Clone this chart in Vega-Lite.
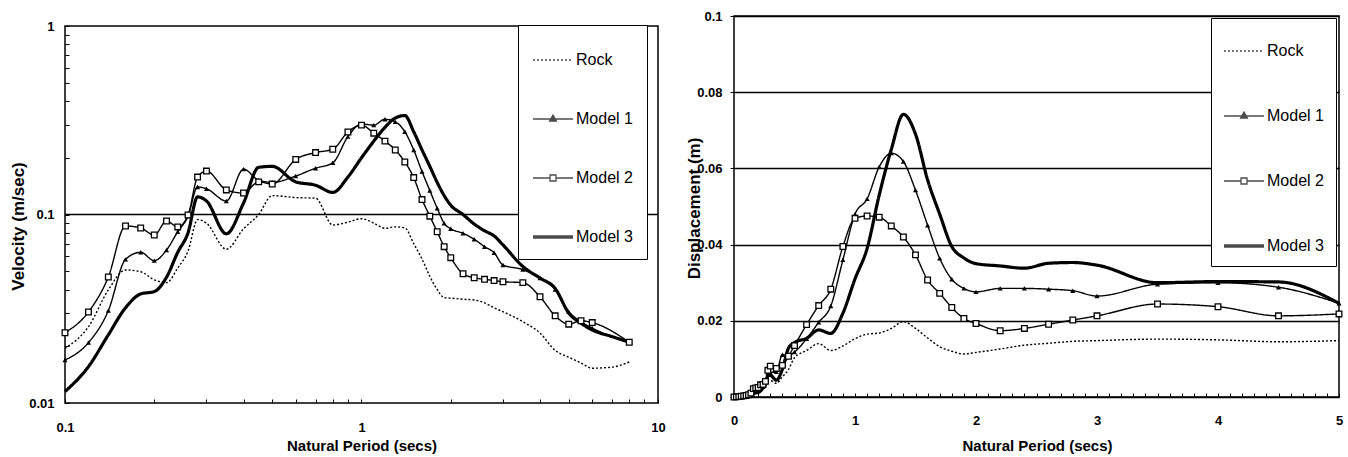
{
  "$schema": "https://vega.github.io/schema/vega-lite/v6.json",
  "padding": {"left": 8, "top": 9, "right": 0, "bottom": 0},
  "background": "white",
  "config": {
    "font": "Liberation Sans",
    "view": {"stroke": "black", "strokeWidth": 1.5},
    "axis": {"labelFont": "Liberation Sans", "labelFontWeight": "bold", "labelFontSize": 13, "labelColor": "black", "titleFont": "Liberation Sans", "titleFontWeight": "bold", "titleColor": "black", "domain": false, "tickColor": "black", "tickWidth": 1, "labelFlush": false, "labelOverlap": false, "labelBound": false, "grid": false},
    "legend": {"orient": "none", "direction": "vertical", "symbolSize": 1600, "symbolStrokeColor": "black", "symbolStrokeWidth": 1.3, "symbolFillColor": "transparent", "labelFont": "Liberation Sans", "labelFontSize": 16, "labelColor": "black", "labelOffset": 2, "labelLimit": 200, "strokeColor": "black", "fillColor": "white"}
  },
  "datasets": {
    "vel": [
      {"series":"Rock","period":0.1,"velocity":0.0195},{"series":"Rock","period":0.12,"velocity":0.0254},{"series":"Rock","period":0.14,"velocity":0.0398},{"series":"Rock","period":0.16,"velocity":0.0508},{"series":"Rock","period":0.18,"velocity":0.0497},{"series":"Rock","period":0.2,"velocity":0.045},{"series":"Rock","period":0.22,"velocity":0.0435},{"series":"Rock","period":0.24,"velocity":0.052},{"series":"Rock","period":0.26,"velocity":0.064},{"series":"Rock","period":0.28,"velocity":0.094},{"series":"Rock","period":0.3,"velocity":0.09},{"series":"Rock","period":0.35,"velocity":0.0654},{"series":"Rock","period":0.4,"velocity":0.084},{"series":"Rock","period":0.45,"velocity":0.1},{"series":"Rock","period":0.5,"velocity":0.126},{"series":"Rock","period":0.6,"velocity":0.123},{"series":"Rock","period":0.7,"velocity":0.122},{"series":"Rock","period":0.8,"velocity":0.088},{"series":"Rock","period":0.9,"velocity":0.091},{"series":"Rock","period":1.0,"velocity":0.095},{"series":"Rock","period":1.1,"velocity":0.09},{"series":"Rock","period":1.2,"velocity":0.0845},{"series":"Rock","period":1.3,"velocity":0.086},{"series":"Rock","period":1.4,"velocity":0.085},{"series":"Rock","period":1.5,"velocity":0.07},{"series":"Rock","period":1.6,"velocity":0.058},{"series":"Rock","period":1.7,"velocity":0.047},{"series":"Rock","period":1.8,"velocity":0.04},{"series":"Rock","period":1.9,"velocity":0.0362},{"series":"Rock","period":2.0,"velocity":0.036},{"series":"Rock","period":2.2,"velocity":0.0355},{"series":"Rock","period":2.4,"velocity":0.0352},{"series":"Rock","period":2.6,"velocity":0.034},{"series":"Rock","period":2.8,"velocity":0.032},{"series":"Rock","period":3.0,"velocity":0.0305},{"series":"Rock","period":3.5,"velocity":0.027},{"series":"Rock","period":4.0,"velocity":0.0235},{"series":"Rock","period":4.5,"velocity":0.019},{"series":"Rock","period":5.0,"velocity":0.0175},{"series":"Rock","period":5.5,"velocity":0.0163},{"series":"Rock","period":6.0,"velocity":0.0153},{"series":"Rock","period":7.0,"velocity":0.0155},{"series":"Rock","period":8.0,"velocity":0.0165},
      {"series":"Model 1","period":0.1,"velocity":0.0169},{"series":"Model 1","period":0.12,"velocity":0.0209},{"series":"Model 1","period":0.14,"velocity":0.0309},{"series":"Model 1","period":0.16,"velocity":0.0578},{"series":"Model 1","period":0.18,"velocity":0.063},{"series":"Model 1","period":0.2,"velocity":0.0569},{"series":"Model 1","period":0.22,"velocity":0.0648},{"series":"Model 1","period":0.24,"velocity":0.081},{"series":"Model 1","period":0.26,"velocity":0.098},{"series":"Model 1","period":0.28,"velocity":0.14},{"series":"Model 1","period":0.3,"velocity":0.137},{"series":"Model 1","period":0.35,"velocity":0.118},{"series":"Model 1","period":0.4,"velocity":0.174},{"series":"Model 1","period":0.45,"velocity":0.152},{"series":"Model 1","period":0.5,"velocity":0.148},{"series":"Model 1","period":0.6,"velocity":0.16},{"series":"Model 1","period":0.7,"velocity":0.176},{"series":"Model 1","period":0.8,"velocity":0.188},{"series":"Model 1","period":0.9,"velocity":0.259},{"series":"Model 1","period":1.0,"velocity":0.302},{"series":"Model 1","period":1.1,"velocity":0.298},{"series":"Model 1","period":1.2,"velocity":0.32},{"series":"Model 1","period":1.3,"velocity":0.31},{"series":"Model 1","period":1.4,"velocity":0.275},{"series":"Model 1","period":1.5,"velocity":0.22},{"series":"Model 1","period":1.6,"velocity":0.169},{"series":"Model 1","period":1.7,"velocity":0.134},{"series":"Model 1","period":1.8,"velocity":0.108},{"series":"Model 1","period":1.9,"velocity":0.0898},{"series":"Model 1","period":2.0,"velocity":0.084},{"series":"Model 1","period":2.2,"velocity":0.0795},{"series":"Model 1","period":2.4,"velocity":0.0739},{"series":"Model 1","period":2.6,"velocity":0.0675},{"series":"Model 1","period":2.8,"velocity":0.0627},{"series":"Model 1","period":3.0,"velocity":0.054},{"series":"Model 1","period":3.5,"velocity":0.051},{"series":"Model 1","period":4.0,"velocity":0.046},{"series":"Model 1","period":4.5,"velocity":0.04},{"series":"Model 1","period":5.0,"velocity":0.0305},{"series":"Model 1","period":5.5,"velocity":0.027},{"series":"Model 1","period":6.0,"velocity":0.025},{"series":"Model 1","period":8.0,"velocity":0.021},
      {"series":"Model 2","period":0.1,"velocity":0.0236},{"series":"Model 2","period":0.12,"velocity":0.0304},{"series":"Model 2","period":0.14,"velocity":0.0466},{"series":"Model 2","period":0.16,"velocity":0.0869},{"series":"Model 2","period":0.18,"velocity":0.0848},{"series":"Model 2","period":0.2,"velocity":0.0778},{"series":"Model 2","period":0.22,"velocity":0.0924},{"series":"Model 2","period":0.24,"velocity":0.0859},{"series":"Model 2","period":0.26,"velocity":0.0994},{"series":"Model 2","period":0.28,"velocity":0.158},{"series":"Model 2","period":0.3,"velocity":0.17},{"series":"Model 2","period":0.35,"velocity":0.135},{"series":"Model 2","period":0.4,"velocity":0.13},{"series":"Model 2","period":0.45,"velocity":0.149},{"series":"Model 2","period":0.5,"velocity":0.145},{"series":"Model 2","period":0.6,"velocity":0.196},{"series":"Model 2","period":0.7,"velocity":0.213},{"series":"Model 2","period":0.8,"velocity":0.222},{"series":"Model 2","period":0.9,"velocity":0.274},{"series":"Model 2","period":1.0,"velocity":0.298},{"series":"Model 2","period":1.1,"velocity":0.27},{"series":"Model 2","period":1.2,"velocity":0.245},{"series":"Model 2","period":1.3,"velocity":0.22},{"series":"Model 2","period":1.4,"velocity":0.19},{"series":"Model 2","period":1.5,"velocity":0.157},{"series":"Model 2","period":1.6,"velocity":0.12},{"series":"Model 2","period":1.7,"velocity":0.098},{"series":"Model 2","period":1.8,"velocity":0.081},{"series":"Model 2","period":1.9,"velocity":0.0675},{"series":"Model 2","period":2.0,"velocity":0.059},{"series":"Model 2","period":2.2,"velocity":0.0485},{"series":"Model 2","period":2.4,"velocity":0.0462},{"series":"Model 2","period":2.6,"velocity":0.0453},{"series":"Model 2","period":2.8,"velocity":0.0446},{"series":"Model 2","period":3.0,"velocity":0.044},{"series":"Model 2","period":3.5,"velocity":0.0435},{"series":"Model 2","period":4.0,"velocity":0.0366},{"series":"Model 2","period":4.5,"velocity":0.029},{"series":"Model 2","period":5.0,"velocity":0.0262},{"series":"Model 2","period":5.5,"velocity":0.0273},{"series":"Model 2","period":6.0,"velocity":0.0267},{"series":"Model 2","period":8.0,"velocity":0.021},
      {"series":"Model 3","period":0.1,"velocity":0.0115},{"series":"Model 3","period":0.12,"velocity":0.0156},{"series":"Model 3","period":0.14,"velocity":0.023},{"series":"Model 3","period":0.16,"velocity":0.032},{"series":"Model 3","period":0.18,"velocity":0.0379},{"series":"Model 3","period":0.2,"velocity":0.039},{"series":"Model 3","period":0.22,"velocity":0.0465},{"series":"Model 3","period":0.24,"velocity":0.063},{"series":"Model 3","period":0.26,"velocity":0.08},{"series":"Model 3","period":0.28,"velocity":0.124},{"series":"Model 3","period":0.3,"velocity":0.118},{"series":"Model 3","period":0.35,"velocity":0.079},{"series":"Model 3","period":0.4,"velocity":0.115},{"series":"Model 3","period":0.45,"velocity":0.178},{"series":"Model 3","period":0.5,"velocity":0.18},{"series":"Model 3","period":0.6,"velocity":0.149},{"series":"Model 3","period":0.7,"velocity":0.143},{"series":"Model 3","period":0.8,"velocity":0.131},{"series":"Model 3","period":0.9,"velocity":0.158},{"series":"Model 3","period":1.0,"velocity":0.2},{"series":"Model 3","period":1.1,"velocity":0.245},{"series":"Model 3","period":1.2,"velocity":0.29},{"series":"Model 3","period":1.3,"velocity":0.325},{"series":"Model 3","period":1.4,"velocity":0.335},{"series":"Model 3","period":1.5,"velocity":0.275},{"series":"Model 3","period":1.6,"velocity":0.22},{"series":"Model 3","period":1.7,"velocity":0.18},{"series":"Model 3","period":1.8,"velocity":0.148},{"series":"Model 3","period":1.9,"velocity":0.126},{"series":"Model 3","period":2.0,"velocity":0.112},{"series":"Model 3","period":2.2,"velocity":0.1},{"series":"Model 3","period":2.4,"velocity":0.089},{"series":"Model 3","period":2.6,"velocity":0.082},{"series":"Model 3","period":2.8,"velocity":0.077},{"series":"Model 3","period":3.0,"velocity":0.069},{"series":"Model 3","period":3.5,"velocity":0.053},{"series":"Model 3","period":4.0,"velocity":0.046},{"series":"Model 3","period":4.5,"velocity":0.0405},{"series":"Model 3","period":5.0,"velocity":0.03},{"series":"Model 3","period":5.5,"velocity":0.0265},{"series":"Model 3","period":6.0,"velocity":0.0244},{"series":"Model 3","period":7.0,"velocity":0.0225},{"series":"Model 3","period":8.0,"velocity":0.021}
    ],
    "disp": [
      {"series":"Rock","period":0,"displacement":0},{"series":"Rock","period":0.02,"displacement":0.00003},{"series":"Rock","period":0.04,"displacement":0.0001},{"series":"Rock","period":0.06,"displacement":0.00015},{"series":"Rock","period":0.08,"displacement":0.0002},{"series":"Rock","period":0.1,"displacement":0.0003},{"series":"Rock","period":0.12,"displacement":0.0005},{"series":"Rock","period":0.14,"displacement":0.0009},{"series":"Rock","period":0.16,"displacement":0.0013},{"series":"Rock","period":0.18,"displacement":0.0014},{"series":"Rock","period":0.2,"displacement":0.0014},{"series":"Rock","period":0.22,"displacement":0.0015},{"series":"Rock","period":0.24,"displacement":0.002},{"series":"Rock","period":0.26,"displacement":0.0026},{"series":"Rock","period":0.28,"displacement":0.0042},{"series":"Rock","period":0.3,"displacement":0.0043},{"series":"Rock","period":0.35,"displacement":0.0036},{"series":"Rock","period":0.4,"displacement":0.0053},{"series":"Rock","period":0.45,"displacement":0.0072},{"series":"Rock","period":0.5,"displacement":0.0103},{"series":"Rock","period":0.6,"displacement":0.0122},{"series":"Rock","period":0.7,"displacement":0.014},{"series":"Rock","period":0.8,"displacement":0.0122},{"series":"Rock","period":0.9,"displacement":0.0134},{"series":"Rock","period":1.0,"displacement":0.0153},{"series":"Rock","period":1.1,"displacement":0.0165},{"series":"Rock","period":1.2,"displacement":0.0168},{"series":"Rock","period":1.3,"displacement":0.018},{"series":"Rock","period":1.4,"displacement":0.0198},{"series":"Rock","period":1.5,"displacement":0.018},{"series":"Rock","period":1.6,"displacement":0.0155},{"series":"Rock","period":1.7,"displacement":0.0132},{"series":"Rock","period":1.8,"displacement":0.012},{"series":"Rock","period":1.9,"displacement":0.0113},{"series":"Rock","period":2.0,"displacement":0.0117},{"series":"Rock","period":2.2,"displacement":0.0126},{"series":"Rock","period":2.4,"displacement":0.0136},{"series":"Rock","period":2.6,"displacement":0.0141},{"series":"Rock","period":2.8,"displacement":0.0146},{"series":"Rock","period":3.0,"displacement":0.0148},{"series":"Rock","period":3.5,"displacement":0.0152},{"series":"Rock","period":4.0,"displacement":0.015},{"series":"Rock","period":4.5,"displacement":0.0145},{"series":"Rock","period":5.0,"displacement":0.0148},
      {"series":"Model 1","period":0,"displacement":0},{"series":"Model 1","period":0.02,"displacement":0.00003},{"series":"Model 1","period":0.04,"displacement":0.00008},{"series":"Model 1","period":0.06,"displacement":0.00015},{"series":"Model 1","period":0.08,"displacement":0.0002},{"series":"Model 1","period":0.1,"displacement":0.00027},{"series":"Model 1","period":0.12,"displacement":0.0004},{"series":"Model 1","period":0.14,"displacement":0.0007},{"series":"Model 1","period":0.16,"displacement":0.0015},{"series":"Model 1","period":0.18,"displacement":0.0018},{"series":"Model 1","period":0.2,"displacement":0.0018},{"series":"Model 1","period":0.22,"displacement":0.0023},{"series":"Model 1","period":0.24,"displacement":0.0031},{"series":"Model 1","period":0.26,"displacement":0.0041},{"series":"Model 1","period":0.28,"displacement":0.0062},{"series":"Model 1","period":0.3,"displacement":0.0064},{"series":"Model 1","period":0.35,"displacement":0.0066},{"series":"Model 1","period":0.4,"displacement":0.0111},{"series":"Model 1","period":0.45,"displacement":0.0109},{"series":"Model 1","period":0.5,"displacement":0.0118},{"series":"Model 1","period":0.6,"displacement":0.0153},{"series":"Model 1","period":0.7,"displacement":0.0196},{"series":"Model 1","period":0.8,"displacement":0.0239},{"series":"Model 1","period":0.9,"displacement":0.036},{"series":"Model 1","period":1.0,"displacement":0.048},{"series":"Model 1","period":1.1,"displacement":0.052},{"series":"Model 1","period":1.2,"displacement":0.0604},{"series":"Model 1","period":1.3,"displacement":0.064},{"series":"Model 1","period":1.4,"displacement":0.0618},{"series":"Model 1","period":1.5,"displacement":0.0543},{"series":"Model 1","period":1.6,"displacement":0.0451},{"series":"Model 1","period":1.7,"displacement":0.0364},{"series":"Model 1","period":1.8,"displacement":0.0309},{"series":"Model 1","period":1.9,"displacement":0.0285},{"series":"Model 1","period":2.0,"displacement":0.0276},{"series":"Model 1","period":2.2,"displacement":0.0285},{"series":"Model 1","period":2.4,"displacement":0.0285},{"series":"Model 1","period":2.6,"displacement":0.0283},{"series":"Model 1","period":2.8,"displacement":0.0279},{"series":"Model 1","period":3.0,"displacement":0.0265},{"series":"Model 1","period":3.5,"displacement":0.0296},{"series":"Model 1","period":4.0,"displacement":0.03},{"series":"Model 1","period":4.5,"displacement":0.0288},{"series":"Model 1","period":5.0,"displacement":0.0246},
      {"series":"Model 2","period":0,"displacement":0},{"series":"Model 2","period":0.02,"displacement":0.00004},{"series":"Model 2","period":0.04,"displacement":0.0001},{"series":"Model 2","period":0.06,"displacement":0.0002},{"series":"Model 2","period":0.08,"displacement":0.0003},{"series":"Model 2","period":0.1,"displacement":0.00038},{"series":"Model 2","period":0.12,"displacement":0.00058},{"series":"Model 2","period":0.14,"displacement":0.001},{"series":"Model 2","period":0.16,"displacement":0.0022},{"series":"Model 2","period":0.18,"displacement":0.0024},{"series":"Model 2","period":0.2,"displacement":0.0025},{"series":"Model 2","period":0.22,"displacement":0.0032},{"series":"Model 2","period":0.24,"displacement":0.0033},{"series":"Model 2","period":0.26,"displacement":0.0041},{"series":"Model 2","period":0.28,"displacement":0.007},{"series":"Model 2","period":0.3,"displacement":0.0081},{"series":"Model 2","period":0.35,"displacement":0.0075},{"series":"Model 2","period":0.4,"displacement":0.0083},{"series":"Model 2","period":0.45,"displacement":0.0107},{"series":"Model 2","period":0.5,"displacement":0.0135},{"series":"Model 2","period":0.6,"displacement":0.019},{"series":"Model 2","period":0.7,"displacement":0.024},{"series":"Model 2","period":0.8,"displacement":0.0283},{"series":"Model 2","period":0.9,"displacement":0.0395},{"series":"Model 2","period":1.0,"displacement":0.0469},{"series":"Model 2","period":1.1,"displacement":0.0475},{"series":"Model 2","period":1.2,"displacement":0.0472},{"series":"Model 2","period":1.3,"displacement":0.0449},{"series":"Model 2","period":1.4,"displacement":0.042},{"series":"Model 2","period":1.5,"displacement":0.0373},{"series":"Model 2","period":1.6,"displacement":0.0307},{"series":"Model 2","period":1.7,"displacement":0.0272},{"series":"Model 2","period":1.8,"displacement":0.0235},{"series":"Model 2","period":1.9,"displacement":0.0206},{"series":"Model 2","period":2.0,"displacement":0.0193},{"series":"Model 2","period":2.2,"displacement":0.0174},{"series":"Model 2","period":2.4,"displacement":0.018},{"series":"Model 2","period":2.6,"displacement":0.0191},{"series":"Model 2","period":2.8,"displacement":0.0202},{"series":"Model 2","period":3.0,"displacement":0.0213},{"series":"Model 2","period":3.5,"displacement":0.0244},{"series":"Model 2","period":4.0,"displacement":0.0237},{"series":"Model 2","period":4.5,"displacement":0.0213},{"series":"Model 2","period":5.0,"displacement":0.0218},
      {"series":"Model 3","period":0,"displacement":0},{"series":"Model 3","period":0.02,"displacement":0.00002},{"series":"Model 3","period":0.04,"displacement":0.00005},{"series":"Model 3","period":0.06,"displacement":0.0001},{"series":"Model 3","period":0.08,"displacement":0.00013},{"series":"Model 3","period":0.1,"displacement":0.00018},{"series":"Model 3","period":0.12,"displacement":0.0003},{"series":"Model 3","period":0.14,"displacement":0.0005},{"series":"Model 3","period":0.16,"displacement":0.0008},{"series":"Model 3","period":0.18,"displacement":0.0011},{"series":"Model 3","period":0.2,"displacement":0.0012},{"series":"Model 3","period":0.22,"displacement":0.0016},{"series":"Model 3","period":0.24,"displacement":0.0024},{"series":"Model 3","period":0.26,"displacement":0.0033},{"series":"Model 3","period":0.28,"displacement":0.0055},{"series":"Model 3","period":0.3,"displacement":0.0057},{"series":"Model 3","period":0.35,"displacement":0.0044},{"series":"Model 3","period":0.4,"displacement":0.0073},{"series":"Model 3","period":0.45,"displacement":0.0128},{"series":"Model 3","period":0.5,"displacement":0.0143},{"series":"Model 3","period":0.6,"displacement":0.0154},{"series":"Model 3","period":0.7,"displacement":0.0176},{"series":"Model 3","period":0.8,"displacement":0.0167},{"series":"Model 3","period":0.9,"displacement":0.022},{"series":"Model 3","period":1.0,"displacement":0.031},{"series":"Model 3","period":1.1,"displacement":0.039},{"series":"Model 3","period":1.2,"displacement":0.053},{"series":"Model 3","period":1.3,"displacement":0.065},{"series":"Model 3","period":1.4,"displacement":0.0742},{"series":"Model 3","period":1.5,"displacement":0.069},{"series":"Model 3","period":1.6,"displacement":0.057},{"series":"Model 3","period":1.7,"displacement":0.048},{"series":"Model 3","period":1.8,"displacement":0.0395},{"series":"Model 3","period":1.9,"displacement":0.0365},{"series":"Model 3","period":2.0,"displacement":0.035},{"series":"Model 3","period":2.2,"displacement":0.0344},{"series":"Model 3","period":2.4,"displacement":0.0338},{"series":"Model 3","period":2.6,"displacement":0.0351},{"series":"Model 3","period":2.8,"displacement":0.0353},{"series":"Model 3","period":3.0,"displacement":0.0346},{"series":"Model 3","period":3.5,"displacement":0.03},{"series":"Model 3","period":4.0,"displacement":0.0303},{"series":"Model 3","period":4.5,"displacement":0.0302},{"series":"Model 3","period":5.0,"displacement":0.0246}
    ]
  },
  "bounds": "flush",
  "spacing": 669,
  "resolve": {"scale": {"shape": "independent"}, "legend": {"shape": "independent"}},
  "hconcat": [
    {
      "bounds": "flush",
      "spacing": 0,
      "resolve": {"scale": {"shape": "independent"}, "legend": {"shape": "independent"}},
      "vconcat": [
        {"width": 593, "height": 10, "view": {"stroke": null}, "data": {"values": [{}]}, "mark": {"type": "text", "text": ""}, "encoding": {}},
        {
          "width": 593, "height": 377,
          "data": {"name": "vel"},
          "layer": [
            {"data": {"values": [{}]}, "mark": {"type": "rule", "color": "black", "strokeWidth": 1.3}, "encoding": {"y": {"datum": 0.1, "type": "quantitative"}}},
            {
              "mark": {"type": "line", "interpolate": "monotone", "color": "black"},
              "encoding": {
                "x": {"field": "period", "type": "quantitative", "scale": {"type": "log", "domain": [0.1, 10]},
                  "axis": {"title": "Natural Period (secs)", "values": [0.1,0.2,0.3,0.4,0.5,0.6,0.7,0.8,0.9,1,2,3,4,5,6,7,8,9,10], "labelExpr": "datum.value === 0.1 || datum.value === 1 || datum.value === 10 ? datum.value + '' : ''", "labelOverlap": false, "tickSize": -4, "labelPadding": 22, "titleFontSize": 15, "titleX": 296.5, "titleY": 42, "titleBaseline": "middle", "titleAlign": "center"}},
                "y": {"field": "velocity", "type": "quantitative", "scale": {"type": "log", "domain": [0.01, 1]},
                  "axis": {"title": "Velocity (m/sec)", "values": [0.01,0.02,0.03,0.04,0.05,0.06,0.07,0.08,0.09,0.1,0.2,0.3,0.4,0.5,0.6,0.7,0.8,0.9,1], "labelExpr": "datum.value === 0.01 || datum.value === 0.1 || datum.value === 1 ? datum.value + '' : ''", "labelOverlap": false, "tickSize": -4, "labelPadding": 15, "titleFontSize": 17, "titleX": -47, "titleY": 200, "titleAngle": 270, "titleBaseline": "middle", "titleAlign": "center"}},
                "detail": {"field": "series"},
                "strokeWidth": {"condition": {"test": "datum.series === 'Model 3'", "value": 3.2}, "value": 1.4},
                "strokeDash": {"condition": {"test": "datum.series === 'Rock'", "value": [2, 2]}, "value": [1, 0]}
              }
            },
            {
              "transform": [{"filter": "datum.series === 'Model 1'"}],
              "mark": {"type": "point", "shape": "triangle-up", "filled": true, "color": "black", "size": 26, "opacity": 1},
              "encoding": {"x": {"field": "period", "type": "quantitative"}, "y": {"field": "velocity", "type": "quantitative"}}
            },
            {
              "transform": [{"filter": "datum.series === 'Model 2'"}],
              "mark": {"type": "point", "shape": "square", "filled": true, "fill": "white", "stroke": "black", "strokeWidth": 1.3, "size": 32, "opacity": 1},
              "encoding": {"x": {"field": "period", "type": "quantitative"}, "y": {"field": "velocity", "type": "quantitative"}}
            },
            {
              "transform": [{"filter": "false"}],
              "mark": {"type": "point", "filled": false, "color": "black", "strokeWidth": 1.3},
              "encoding": {
                "x": {"field": "period", "type": "quantitative"},
                "y": {"field": "velocity", "type": "quantitative"},
                "shape": {"field": "series", "type": "nominal",
                  "scale": {"domain": ["Rock", "Model 1", "Model 2", "Model 3"],
                    "range": ["M-1,0H-0.9M-0.8,0H-0.7M-0.6,0H-0.5M-0.4,0H-0.3M-0.2,0H-0.1M0,0H0.1M0.2,0H0.3M0.4,0H0.5M0.6,0H0.7M0.8,0H0.9",
                              "M-1,0H1M0,-0.2L0.17,0.1L-0.17,0.1ZM0,-0.08L0.07,0.04L-0.07,0.04Z",
                              "M-1,0H-0.15M0.15,0H1M-0.15,-0.15H0.15V0.15H-0.15Z",
                              "M-1,-0.05H1M-1,0H1M-1,0.05H1"]},
                  "legend": {"title": null, "orient": "none", "legendX": 453, "legendY": -1, "padding": 14, "rowPadding": 30}}
              }
            }
          ]
        }
      ]
    },
    {
      "width": 605, "height": 381,
      "data": {"name": "disp"},
      "layer": [
        {
          "mark": {"type": "line", "interpolate": "monotone", "color": "black"},
          "encoding": {
            "x": {"field": "period", "type": "quantitative", "scale": {"domain": [0, 5], "nice": false},
              "axis": {"orient": "bottom", "title": "Natural Period (secs)", "values": [0, 1, 2, 3, 4, 5], "format": "d", "labelOverlap": false, "tickSize": -4, "labelPadding": 21, "titleFontSize": 15, "titleX": 303, "titleY": 48, "titleBaseline": "middle", "titleAlign": "center"}},
            "y": {"field": "displacement", "type": "quantitative", "scale": {"domain": [0, 0.1], "nice": false},
              "axis": {"title": "Displacement (m)", "values": [0, 0.02, 0.04, 0.06, 0.08, 0.1], "format": ".2~f", "labelOverlap": false, "grid": true, "gridColor": "black", "gridWidth": 1.3, "gridOpacity": 1, "tickSize": 4, "labelPadding": 8, "titleFontSize": 17, "titleX": -40, "titleY": 192, "titleAngle": 270, "titleBaseline": "middle", "titleAlign": "center"}},
            "detail": {"field": "series"},
            "strokeWidth": {"condition": {"test": "datum.series === 'Model 3'", "value": 3.2}, "value": 1.4},
            "strokeDash": {"condition": {"test": "datum.series === 'Rock'", "value": [2, 2]}, "value": [1, 0]}
          }
        },
        {
          "transform": [{"filter": "datum.series === 'Model 1'"}],
          "mark": {"type": "point", "shape": "triangle-up", "filled": true, "color": "black", "size": 26, "opacity": 1},
          "encoding": {
            "x": {"field": "period", "type": "quantitative", "axis": {"orient": "top", "offset": -381, "values": [0.1,0.2,0.3,0.4,0.5,0.6,0.7,0.8,0.9,1.1,1.2,1.3,1.4,1.5,1.6,1.7,1.8,1.9,2.1,2.2,2.3,2.4,2.5,2.6,2.7,2.8,2.9,3.1,3.2,3.3,3.4,3.5,3.6,3.7,3.8,3.9,4.1,4.2,4.3,4.4,4.5,4.6,4.7,4.8,4.9], "labels": false, "title": null, "tickSize": 4, "grid": false}},
            "y": {"field": "displacement", "type": "quantitative"}
          }
        },
        {
          "transform": [{"filter": "datum.series === 'Model 2'"}],
          "mark": {"type": "point", "shape": "square", "filled": true, "fill": "white", "stroke": "black", "strokeWidth": 1.3, "size": 32, "opacity": 1},
          "encoding": {"x": {"field": "period", "type": "quantitative", "axis": null}, "y": {"field": "displacement", "type": "quantitative"}}
        },
        {
          "transform": [{"filter": "false"}],
          "mark": {"type": "point", "filled": false, "color": "black", "strokeWidth": 1.3},
          "encoding": {
            "x": {"field": "period", "type": "quantitative", "axis": null},
            "y": {"field": "displacement", "type": "quantitative"},
            "shape": {"field": "series", "type": "nominal",
              "scale": {"domain": ["Rock", "Model 1", "Model 2", "Model 3"],
                "range": ["M-1,0H-0.9M-0.8,0H-0.7M-0.6,0H-0.5M-0.4,0H-0.3M-0.2,0H-0.1M0,0H0.1M0.2,0H0.3M0.4,0H0.5M0.6,0H0.7M0.8,0H0.9",
                          "M-1,0H1M0,-0.2L0.17,0.1L-0.17,0.1ZM0,-0.08L0.07,0.04L-0.07,0.04Z",
                          "M-1,0H-0.15M0.15,0H1M-0.15,-0.15H0.15V0.15H-0.15Z",
                          "M-1,-0.05H1M-1,0H1M-1,0.05H1"]},
              "legend": {"title": null, "orient": "none", "legendX": 477, "legendY": 2, "padding": 12, "rowPadding": 36}}
          }
        }
      ]
    }
  ]
}
